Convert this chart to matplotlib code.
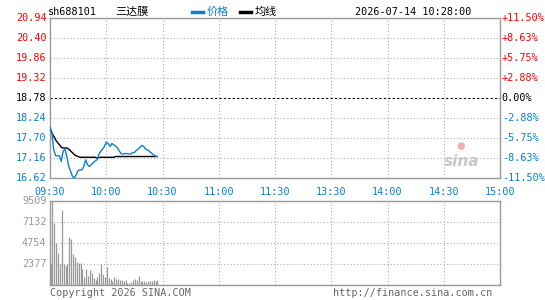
import numpy as np
import matplotlib
matplotlib.use("Agg")
import matplotlib.pyplot as plt

plt.rcParams['font.family'] = ['DejaVu Sans Mono', 'Noto Sans CJK SC']

# 数据
code = "sh688101"
name = "三达膜"
stamp = "2026-07-14 10:28:00"
prev_close = 18.78
price_ticks = [16.62, 17.16, 17.70, 18.24, 18.78, 19.32, 19.86, 20.40, 20.94]
pct_labels = ["-11.50%", "-8.63%", "-5.75%", "-2.88%", "0.00%",
              "+2.88%", "+5.75%", "+8.63%", "+11.50%"]
time_ticks = [0, 30, 60, 90, 120, 150, 180, 210, 240]
time_labels = ["09:30", "10:00", "10:30", "11:00", "11:30",
               "13:30", "14:00", "14:30", "15:00"]
vol_ticks = [2377, 4754, 7132, 9509]

price = [17.97, 17.84, 17.38, 17.22, 17.22, 17.22, 17.07, 17.34, 17.40, 17.20,
         16.93, 16.80, 16.66, 16.62, 16.71, 16.82, 16.84, 16.84, 16.93, 17.11,
         16.98, 16.93, 16.98, 17.03, 17.08, 17.11, 17.25, 17.34, 17.40, 17.47,
         17.59, 17.55, 17.47, 17.55, 17.52, 17.48, 17.43, 17.35, 17.27, 17.27,
         17.28, 17.28, 17.27, 17.27, 17.30, 17.31, 17.36, 17.40, 17.45, 17.50,
         17.47, 17.40, 17.38, 17.34, 17.30, 17.25, 17.22, 17.20]
avg = [17.97, 17.84, 17.75, 17.65, 17.58, 17.52, 17.45, 17.43, 17.43, 17.43,
       17.40, 17.35, 17.30, 17.25, 17.22, 17.20, 17.18, 17.18, 17.18, 17.18,
       17.18, 17.18, 17.18, 17.18, 17.18, 17.16, 17.17, 17.18, 17.18, 17.18,
       17.18, 17.18, 17.18, 17.18, 17.18, 17.20, 17.20, 17.20, 17.20, 17.20,
       17.20, 17.20, 17.20, 17.20, 17.20, 17.20, 17.20, 17.20, 17.20, 17.20,
       17.20, 17.20, 17.20, 17.20, 17.20, 17.20, 17.20, 17.20]
volume = [2530, 9509, 6980, 4790, 3660, 2380, 8490, 2380, 2150, 2380,
          5470, 5210, 3510, 3210, 2640, 2530, 2530, 1770, 940, 1770,
          1020, 1700, 1400, 755, 566, 905, 1320, 2380, 1245, 905,
          2075, 830, 640, 490, 905, 680, 640, 566, 566, 490,
          566, 260, 260, 340, 566, 640, 566, 1020, 490, 490,
          490, 340, 400, 400, 400, 566, 490, 566]

RED = "#ff0000"
BLUE = "#0a7fd1"
GRAY = "#999999"
W, H = 545, 300

fig = plt.figure(figsize=(W / 100, H / 100), dpi=100)
fig.patch.set_facecolor("white")


def px(x, y):
    return x / W, 1 - y / H


def box(l, t, r, b):
    return [l / W, 1 - b / H, (r - l) / W, (b - t) / H]


ax = fig.add_axes(box(50, 18, 500, 178))
axv = fig.add_axes(box(50, 201, 500, 285))

minutes = np.arange(len(price))

for a in (ax, axv):
    a.set_xlim(0, 240)
    for s in a.spines.values():
        s.set_color(GRAY)
        s.set_linewidth(1.0)
    a.set_xticks([])
    a.set_yticks([])
    for t in time_ticks[1:-1]:
        a.axvline(t, color="#aaaaaa", lw=0.8, ls=(0, (1, 2)), zorder=0)

# 价格区
ax.set_ylim(price_ticks[0], price_ticks[-1])
for p in price_ticks[1:-1]:
    if p == prev_close:
        ax.axhline(p, color="black", lw=0.8, ls=(0, (2, 2)), zorder=0)
    else:
        ax.axhline(p, color="#aaaaaa", lw=0.8, ls=(0, (1, 2)), zorder=0)
ax.plot(minutes, avg, color="black", lw=1.0, zorder=3)
ax.plot(minutes, price, color=BLUE, lw=1.0, zorder=4)

for p, lab in zip(price_ticks, pct_labels):
    c = "black" if p == prev_close else (RED if p > prev_close else BLUE)
    ax.text(-0.008, p, f"{p:.2f}", color=c, fontsize=7.3,
            ha="right", va="center", transform=ax.get_yaxis_transform())
    ax.text(1.004, p, lab, color=c, fontsize=7.3,
            ha="left", va="center", transform=ax.get_yaxis_transform())

for t, lab in zip(time_ticks, time_labels):
    ax.text(t, -0.055, lab, color=BLUE, fontsize=7.3, ha="center", va="top",
            transform=ax.get_xaxis_transform())

# 新浪水印
ax.text(0.915, 0.1, "sina", color="#c8c8c8", fontsize=11, fontweight="bold",
        style="italic", family="DejaVu Sans", ha="center", va="center",
        transform=ax.transAxes, zorder=1)
ax.text(0.912, 0.2, "●", color="#f3b0b0", fontsize=7, family="DejaVu Sans",
        ha="center", va="center", transform=ax.transAxes, zorder=1)

# 成交量
axv.set_ylim(0, vol_ticks[-1])
for v in vol_ticks[:-1]:
    axv.axhline(v, color="#aaaaaa", lw=0.8, ls=(0, (1, 2)), zorder=0)
axv.vlines(np.arange(len(volume)) + 0.3, 0, volume, color=GRAY, lw=0.9, zorder=2)
for v in vol_ticks:
    axv.text(-0.008, v, str(v), color=GRAY, fontsize=7.3, ha="right", va="center",
             transform=axv.get_yaxis_transform())

# 顶部与底部文字
fig.text(*px(48, 12), code, fontsize=7.3, color="black", va="center", ha="left")
fig.text(*px(115, 12), name, fontsize=8, color="black", va="center", ha="left",
         family=["Noto Sans CJK SC", "DejaVu Sans"])
fig.add_artist(plt.Line2D([192 / W, 203 / W], [1 - 12 / H] * 2, color=BLUE, lw=2.5))
fig.text(*px(207, 12), "价格", fontsize=8, color=BLUE, va="center", ha="left",
         family=["Noto Sans CJK SC", "DejaVu Sans"])
fig.add_artist(plt.Line2D([240 / W, 251 / W], [1 - 12 / H] * 2, color="black", lw=2.5))
fig.text(*px(255, 12), "均线", fontsize=8, color="black", va="center", ha="left",
         family=["Noto Sans CJK SC", "DejaVu Sans"])
fig.text(*px(471, 12), stamp, fontsize=7.3, color="black", va="center", ha="right")
fig.text(*px(50, 293), "Copyright 2026 SINA.COM", fontsize=7.3, color="#666666",
         va="center", ha="left")
fig.text(*px(492, 293), "http://finance.sina.com.cn", fontsize=7.3, color="#666666",
         va="center", ha="right")

fig.savefig("out.png", dpi=100, facecolor="white")
